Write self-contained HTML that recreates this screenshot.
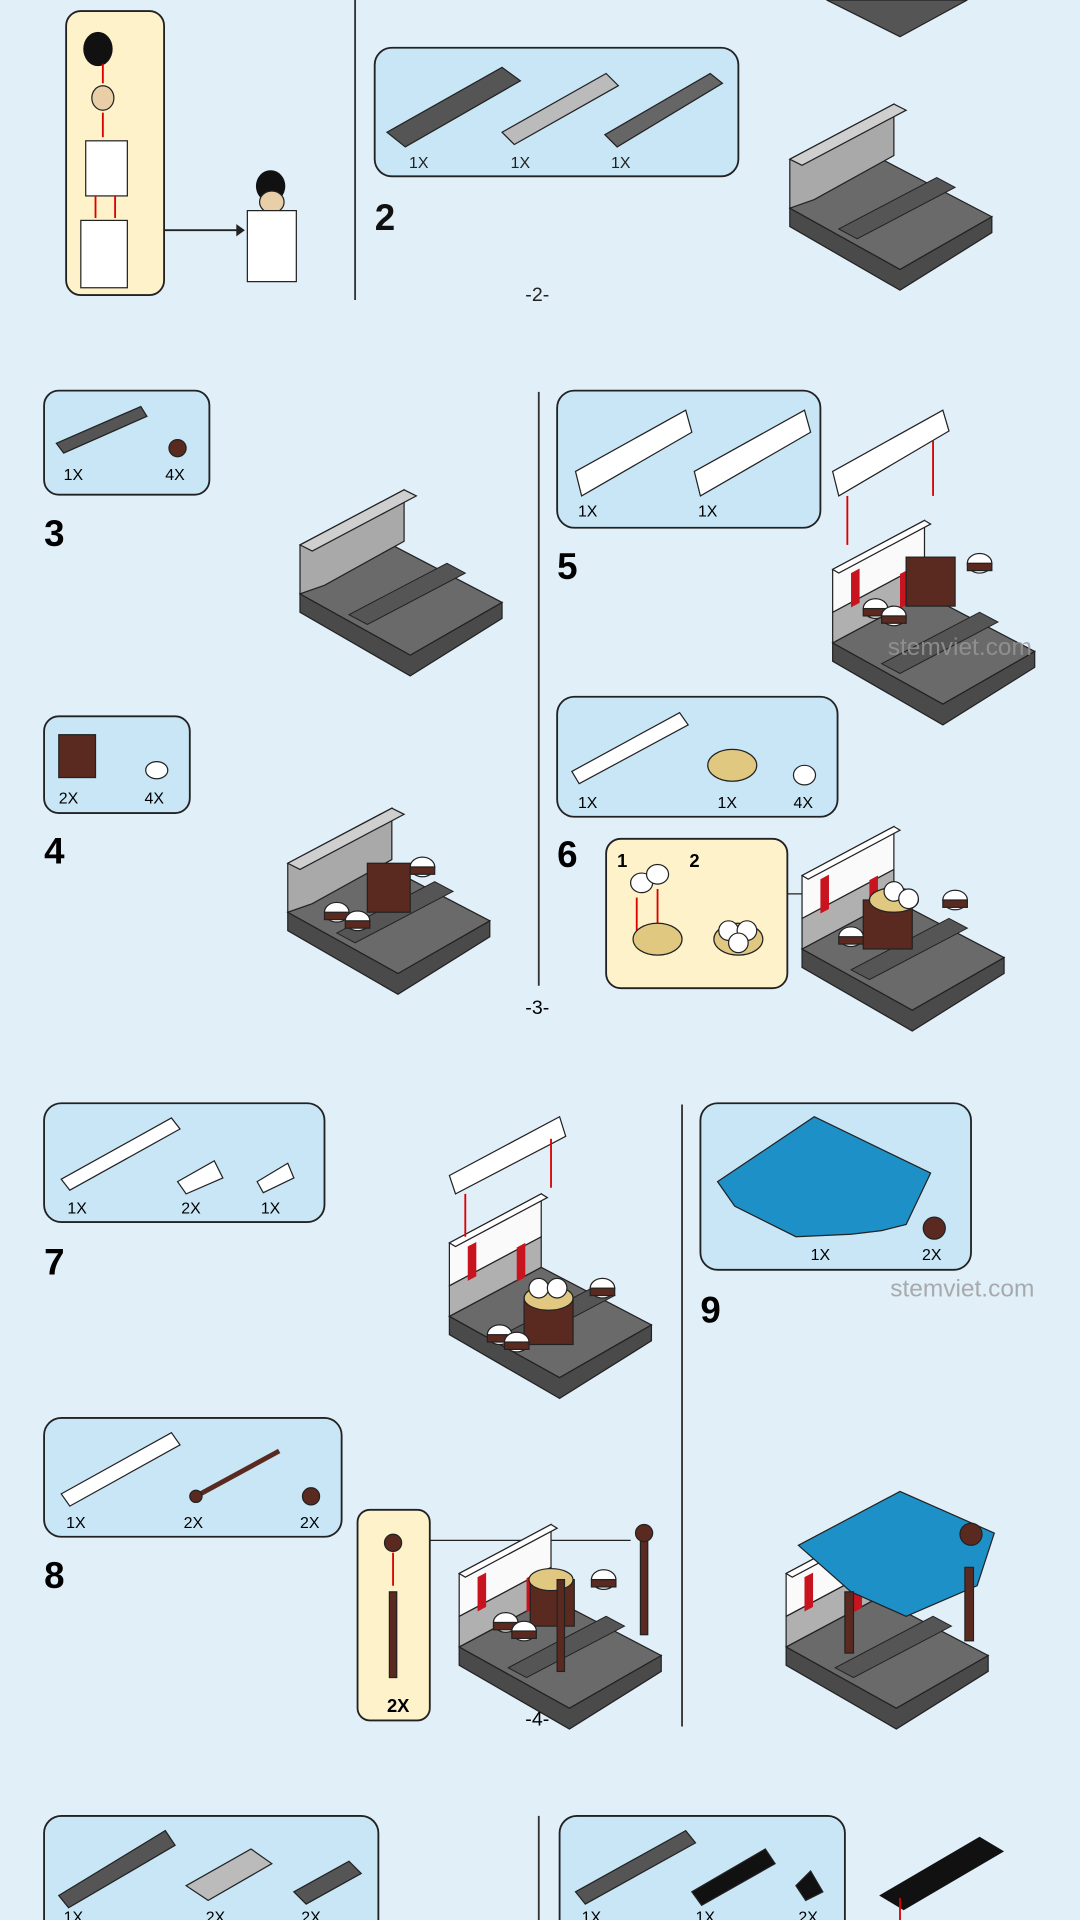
<!DOCTYPE html>
<html><head><meta charset="utf-8"><style>
html,body{margin:0;padding:0;background:#e1eff9;}
svg{display:block}
text{font-family:"Liberation Sans",sans-serif;}
</style></head><body>
<svg width="1080" height="1920" viewBox="0 0 882 1568" xmlns="http://www.w3.org/2000/svg">
<defs>
<g id="base">
<polygon points="0,55 90,105 165,62 165,75 90,122 0,70" fill="#4a4a4a" stroke="#222" stroke-width="1"/>
<polygon points="0,55 75,15 165,62 90,105" fill="#6a6a6a" stroke="#222" stroke-width="1"/>
<polygon points="40,72 120,30 135,38 55,80" fill="#555" stroke="#222" stroke-width=".8"/>
</g>
<g id="mgray">
<use href="#base"/>
<polygon points="0,55 0,15 85,-30 85,12 20,48" fill="#a9a9a9" stroke="#222"/>
<polygon points="0,15 85,-30 95,-25 10,20" fill="#cfcfcf" stroke="#222"/>
</g>
<g id="mwhite">
<use href="#base"/>
<polygon points="0,55 0,30 75,-10 75,15" fill="#b0b0b0" stroke="#222"/>
<polygon points="0,30 0,-5 75,-45 75,-10" fill="#fafafa" stroke="#222"/>
<polygon points="0,-5 75,-45 80,-42 5,-2" fill="#fff" stroke="#222"/>
<rect x="15" y="-2" width="7" height="28" fill="#c8141e" transform="skewY(-28) translate(0,8)"/>
<rect x="55" y="-2" width="7" height="28" fill="#c8141e" transform="skewY(-28) translate(0,30)"/>
</g>
<g id="bun"><ellipse cx="0" cy="0" rx="10" ry="8" fill="#fff" stroke="#222"/><rect x="-10" y="0" width="20" height="6" fill="#5a2a20" stroke="#222"/></g>
</defs>

<!-- section 1 -->
<rect x="54" y="9" width="80" height="232" rx="12" fill="#fdf2c9" stroke="#222" stroke-width="1.5"/>
<ellipse cx="80" cy="40" rx="12" ry="14" fill="#111"/>
<ellipse cx="84" cy="80" rx="9" ry="10" fill="#e8cfa8" stroke="#222"/>
<rect x="70" y="115" width="34" height="45" fill="#fff" stroke="#222"/>
<rect x="66" y="180" width="38" height="55" fill="#fff" stroke="#222"/>
<line x1="84" y1="52" x2="84" y2="68" stroke="#d00" stroke-width="1.5"/>
<line x1="84" y1="92" x2="84" y2="112" stroke="#d00" stroke-width="1.5"/>
<line x1="78" y1="160" x2="78" y2="178" stroke="#d00" stroke-width="1.5"/>
<line x1="94" y1="160" x2="94" y2="178" stroke="#d00" stroke-width="1.5"/>
<line x1="134" y1="188" x2="195" y2="188" stroke="#222" stroke-width="1.5"/>
<polygon points="193,183 200,188 193,193" fill="#222"/>
<ellipse cx="221" cy="152" rx="12" ry="13" fill="#111"/>
<ellipse cx="222" cy="165" rx="10" ry="9" fill="#e8cfa8" stroke="#222"/>
<rect x="202" y="172" width="40" height="58" fill="#fff" stroke="#222"/>
<line x1="290" y1="0" x2="290" y2="245" stroke="#333" stroke-width="1.5"/>
<polygon points="675,0 790,0 735,30" fill="#555" stroke="#222"/>
<rect x="306" y="39" width="297" height="105" rx="14" fill="#c8e6f6" stroke="#222" stroke-width="1.5"/>
<polygon points="316,108 410,55 425,66 331,120" fill="#555" stroke="#222"/>
<polygon points="410,108 495,60 505,70 420,118" fill="#bbb" stroke="#222"/>
<polygon points="494,110 580,60 590,68 504,120" fill="#666" stroke="#222"/>
<text x="334" y="137" font-size="13" fill="#222">1X</text>
<text x="417" y="137" font-size="13" fill="#222">1X</text>
<text x="499" y="137" font-size="13" fill="#222">1X</text>
<text x="306" y="188" font-size="30" font-weight="bold" fill="#111">2</text>
<use href="#mgray" transform="translate(645,115)"/>
<text x="429" y="246" font-size="16" fill="#222">-2-</text>

<!-- section 2 -->
<line x1="440" y1="320" x2="440" y2="805" stroke="#333" stroke-width="1.5"/>
<rect x="36" y="319" width="135" height="85" rx="12" fill="#c8e6f6" stroke="#222" stroke-width="1.5"/>
<polygon points="46,362 115,332 120,340 52,370" fill="#555" stroke="#222"/>
<circle cx="145" cy="366" r="7" fill="#5a2a20" stroke="#222"/>
<text x="52" y="392" font-size="13">1X</text><text x="135" y="392" font-size="13">4X</text>
<text x="36" y="446" font-size="30" font-weight="bold">3</text>
<use href="#mgray" transform="translate(245,430) scale(1)"/>
<rect x="36" y="585" width="119" height="79" rx="12" fill="#c8e6f6" stroke="#222" stroke-width="1.5"/>
<rect x="48" y="600" width="30" height="35" fill="#5a2a20" stroke="#222"/>
<ellipse cx="128" cy="629" rx="9" ry="7" fill="#fff" stroke="#222"/>
<text x="48" y="656" font-size="13">2X</text><text x="118" y="656" font-size="13">4X</text>
<text x="36" y="705" font-size="30" font-weight="bold">4</text>
<use href="#mgray" transform="translate(235,690)"/>
<rect x="300" y="705" width="35" height="40" fill="#5a2a20" stroke="#222"/>
<use href="#bun" transform="translate(345,708)"/><use href="#bun" transform="translate(275,745)"/><use href="#bun" transform="translate(292,752)"/>

<rect x="455" y="319" width="215" height="112" rx="14" fill="#c8e6f6" stroke="#222" stroke-width="1.5"/>
<polygon points="470,385 560,335 565,353 475,405" fill="#fff" stroke="#222"/>
<polygon points="567,385 657,335 662,353 572,405" fill="#fff" stroke="#222"/>
<text x="472" y="422" font-size="13">1X</text><text x="570" y="422" font-size="13">1X</text>
<text x="455" y="473" font-size="30" font-weight="bold">5</text>
<use href="#mwhite" transform="translate(680,470)"/>
<polygon points="680,385 770,335 775,352 685,405" fill="#fff" stroke="#222"/>
<line x1="692" y1="405" x2="692" y2="445" stroke="#d00" stroke-width="1.5"/>
<line x1="762" y1="360" x2="762" y2="405" stroke="#d00" stroke-width="1.5"/>
<rect x="740" y="455" width="40" height="40" fill="#5a2a20" stroke="#222"/>
<use href="#bun" transform="translate(800,460)"/><use href="#bun" transform="translate(715,497)"/><use href="#bun" transform="translate(730,503)"/>
<text x="725" y="535" font-size="20" fill="#999" opacity=".8">stemviet.com</text>

<rect x="455" y="569" width="229" height="98" rx="14" fill="#c8e6f6" stroke="#222" stroke-width="1.5"/>
<polygon points="467,630 555,582 562,592 473,640" fill="#fff" stroke="#222"/>
<ellipse cx="598" cy="625" rx="20" ry="13" fill="#e0c880" stroke="#222"/>
<ellipse cx="657" cy="633" rx="9" ry="8" fill="#fff" stroke="#222"/>
<text x="472" y="660" font-size="13">1X</text><text x="586" y="660" font-size="13">1X</text><text x="648" y="660" font-size="13">4X</text>
<text x="455" y="708" font-size="30" font-weight="bold">6</text>
<rect x="495" y="685" width="148" height="122" rx="12" fill="#fdf2c9" stroke="#222" stroke-width="1.5"/>
<text x="504" y="708" font-size="15" font-weight="bold">1</text><text x="563" y="708" font-size="15" font-weight="bold">2</text>
<ellipse cx="524" cy="721" rx="9" ry="8" fill="#fff" stroke="#222"/><ellipse cx="537" cy="714" rx="9" ry="8" fill="#fff" stroke="#222"/>
<line x1="520" y1="733" x2="520" y2="760" stroke="#d00" stroke-width="1.5"/><line x1="537" y1="726" x2="537" y2="755" stroke="#d00" stroke-width="1.5"/>
<ellipse cx="537" cy="767" rx="20" ry="13" fill="#e0c880" stroke="#222"/>
<ellipse cx="603" cy="767" rx="20" ry="13" fill="#e0c880" stroke="#222"/>
<circle cx="595" cy="760" r="8" fill="#fff" stroke="#222"/><circle cx="610" cy="760" r="8" fill="#fff" stroke="#222"/><circle cx="603" cy="770" r="8" fill="#fff" stroke="#222"/>
<line x1="643" y1="730" x2="715" y2="730" stroke="#222"/>
<use href="#mwhite" transform="translate(655,720)"/>
<rect x="705" y="735" width="40" height="40" fill="#5a2a20" stroke="#222"/>
<ellipse cx="730" cy="735" rx="20" ry="10" fill="#e0c880" stroke="#222"/>
<circle cx="730" cy="728" r="8" fill="#fff" stroke="#222"/><circle cx="742" cy="734" r="8" fill="#fff" stroke="#222"/>
<use href="#bun" transform="translate(780,735)"/><use href="#bun" transform="translate(695,765)"/>
<text x="429" y="828" font-size="16">-3-</text>

<!-- section 3 -->
<rect x="36" y="901" width="229" height="97" rx="14" fill="#c8e6f6" stroke="#222" stroke-width="1.5"/>
<polygon points="50,963 140,913 147,922 57,972" fill="#fff" stroke="#222"/>
<polygon points="145,965 175,948 182,962 152,975" fill="#fff" stroke="#222"/>
<polygon points="210,965 235,950 240,962 215,974" fill="#fff" stroke="#222"/>
<text x="55" y="991" font-size="13">1X</text><text x="148" y="991" font-size="13">2X</text><text x="213" y="991" font-size="13">1X</text>
<text x="36" y="1041" font-size="30" font-weight="bold">7</text>
<use href="#mwhite" transform="translate(367,1020)"/>
<polygon points="367,960 457,912 462,928 372,975" fill="#fff" stroke="#222"/>
<line x1="380" y1="975" x2="380" y2="1010" stroke="#d00" stroke-width="1.5"/><line x1="450" y1="930" x2="450" y2="970" stroke="#d00" stroke-width="1.5"/>
<rect x="428" y="1060" width="40" height="38" fill="#5a2a20" stroke="#222"/>
<ellipse cx="448" cy="1060" rx="20" ry="10" fill="#e0c880" stroke="#222"/>
<circle cx="440" cy="1052" r="8" fill="#fff" stroke="#222"/><circle cx="455" cy="1052" r="8" fill="#fff" stroke="#222"/>
<use href="#bun" transform="translate(492,1052)"/><use href="#bun" transform="translate(408,1090)"/><use href="#bun" transform="translate(422,1096)"/>

<rect x="36" y="1158" width="243" height="97" rx="14" fill="#c8e6f6" stroke="#222" stroke-width="1.5"/>
<polygon points="50,1220 140,1170 147,1180 57,1230" fill="#fff" stroke="#222"/>
<line x1="160" y1="1222" x2="228" y2="1185" stroke="#5a2a20" stroke-width="4"/>
<circle cx="160" cy="1222" r="5" fill="#5a2a20" stroke="#222"/>
<circle cx="254" cy="1222" r="7" fill="#5a2a20" stroke="#222"/>
<text x="54" y="1248" font-size="13">1X</text><text x="150" y="1248" font-size="13">2X</text><text x="245" y="1248" font-size="13">2X</text>
<text x="36" y="1297" font-size="30" font-weight="bold">8</text>
<rect x="292" y="1233" width="59" height="172" rx="10" fill="#fdf2c9" stroke="#222" stroke-width="1.5"/>
<circle cx="321" cy="1260" r="7" fill="#5a2a20" stroke="#222"/>
<line x1="321" y1="1268" x2="321" y2="1295" stroke="#d00" stroke-width="1.5"/>
<rect x="318" y="1300" width="6" height="70" fill="#5a2a20" stroke="#222"/>
<text x="316" y="1398" font-size="15" font-weight="bold">2X</text>
<line x1="351" y1="1258" x2="515" y2="1258" stroke="#222"/>
<use href="#mwhite" transform="translate(375,1290)"/>
<rect x="433" y="1290" width="36" height="38" fill="#5a2a20" stroke="#222"/>
<ellipse cx="450" cy="1290" rx="18" ry="9" fill="#e0c880" stroke="#222"/>
<rect x="455" y="1290" width="6" height="75" fill="#5a2a20" stroke="#222"/>
<rect x="523" y="1255" width="6" height="80" fill="#5a2a20" stroke="#222"/>
<circle cx="526" cy="1252" r="7" fill="#5a2a20" stroke="#222"/>
<use href="#bun" transform="translate(493,1290)"/><use href="#bun" transform="translate(413,1325)"/><use href="#bun" transform="translate(428,1332)"/>
<line x1="557" y1="902" x2="557" y2="1410" stroke="#333" stroke-width="1.5"/>
<text x="429" y="1409" font-size="16">-4-</text>

<rect x="572" y="901" width="221" height="136" rx="14" fill="#c8e6f6" stroke="#222" stroke-width="1.5"/>
<polygon points="586,965 665,912 760,958 740,1000 720,1005 695,1008 650,1010 600,985" fill="#1e90c8" stroke="#222"/>
<circle cx="763" cy="1003" r="9" fill="#5a2a20" stroke="#222"/>
<text x="662" y="1029" font-size="13">1X</text><text x="753" y="1029" font-size="13">2X</text>
<text x="727" y="1059" font-size="20" fill="#999" opacity=".8">stemviet.com</text>
<text x="572" y="1080" font-size="30" font-weight="bold">9</text>
<use href="#mwhite" transform="translate(642,1290)"/>
<polygon points="652,1262 735,1218 812,1252 798,1295 740,1320 695,1300" fill="#1e90c8" stroke="#222"/>
<rect x="788" y="1280" width="7" height="60" fill="#5a2a20" stroke="#222"/>
<rect x="690" y="1300" width="7" height="50" fill="#5a2a20" stroke="#222"/>
<circle cx="793" cy="1253" r="9" fill="#5a2a20" stroke="#222"/>

<!-- section 4 -->
<rect x="36" y="1483" width="273" height="100" rx="14" fill="#c8e6f6" stroke="#222" stroke-width="1.5"/>
<polygon points="48,1548 135,1495 143,1507 56,1558" fill="#555" stroke="#222"/>
<polygon points="152,1540 205,1510 222,1522 170,1552" fill="#bbb" stroke="#222"/>
<polygon points="240,1545 285,1520 295,1530 250,1555" fill="#555" stroke="#222"/>
<text x="52" y="1570" font-size="13">1X</text><text x="168" y="1570" font-size="13">2X</text><text x="246" y="1570" font-size="13">2X</text>
<line x1="440" y1="1483" x2="440" y2="1568" stroke="#333" stroke-width="1.5"/>
<rect x="457" y="1483" width="233" height="100" rx="14" fill="#c8e6f6" stroke="#222" stroke-width="1.5"/>
<polygon points="470,1545 560,1495 568,1505 478,1555" fill="#555" stroke="#222"/>
<polygon points="565,1545 625,1510 633,1522 573,1556" fill="#111" stroke="#222"/>
<polygon points="650,1540 662,1528 672,1545 658,1552" fill="#111" stroke="#222"/>
<text x="475" y="1570" font-size="13">1X</text><text x="568" y="1570" font-size="13">1X</text><text x="652" y="1570" font-size="13">2X</text>
<polygon points="718,1548 800,1500 820,1512 738,1560" fill="#111"/>
<line x1="735" y1="1550" x2="735" y2="1568" stroke="#d00" stroke-width="1.5"/>
</svg>
</body></html>
